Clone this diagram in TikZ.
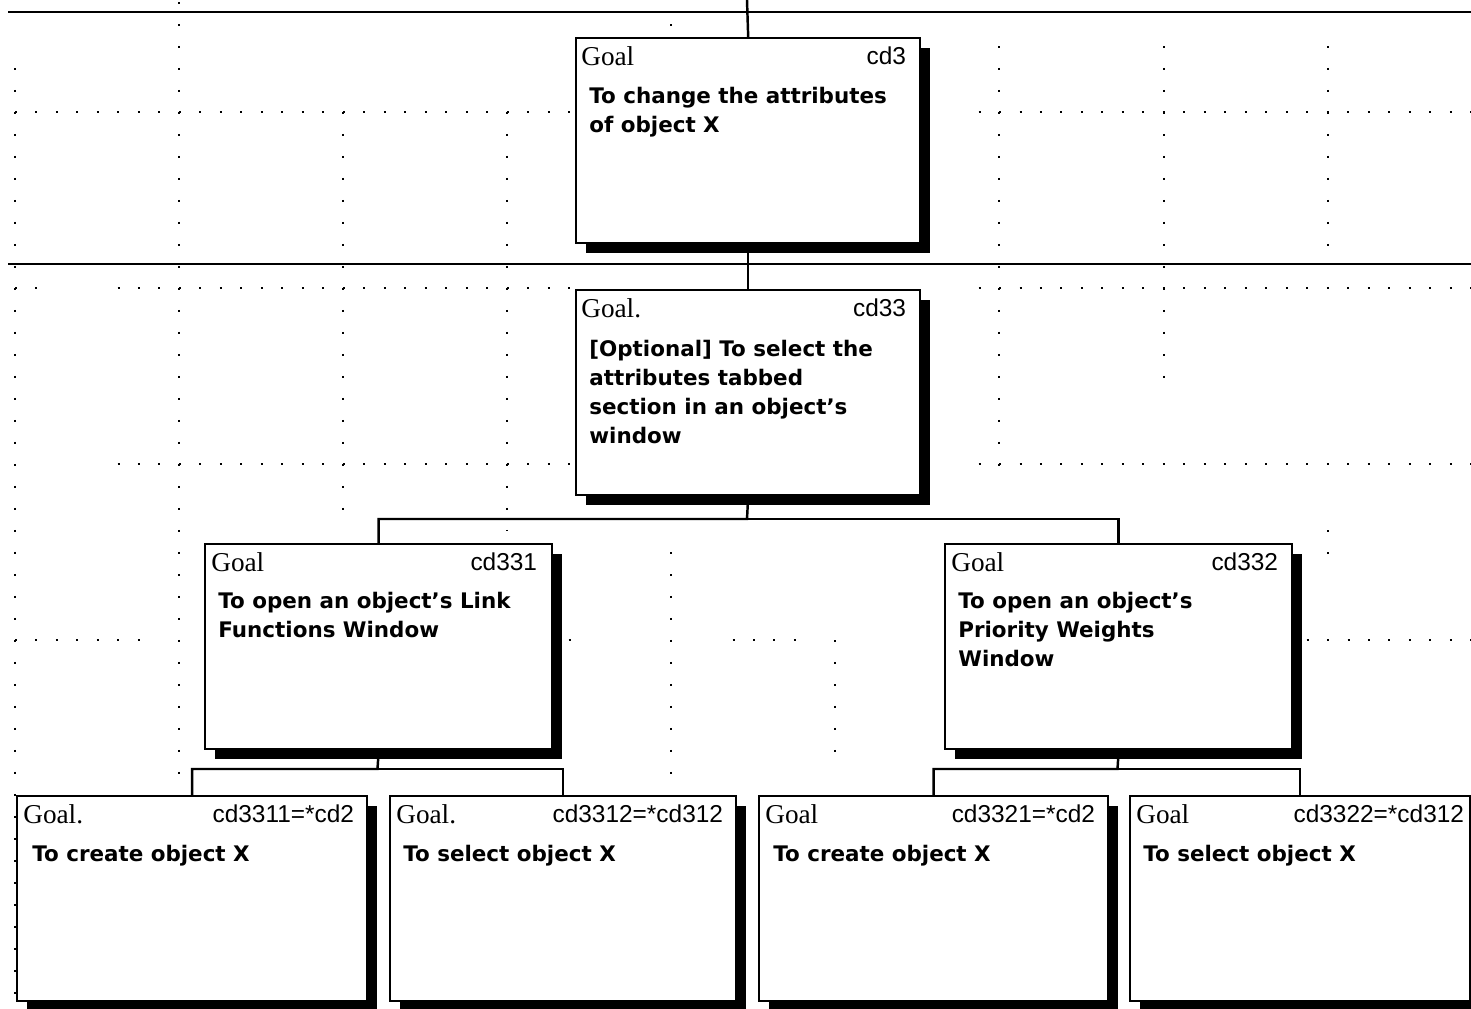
\documentclass[tikz,border=0pt]{standalone}
\usepackage{fontspec}
\setmainfont{Liberation Serif}
\newfontfamily\chifont{DejaVu Sans}
\newfontfamily\genfont{Liberation Sans}
\usepackage{tikz}
\usetikzlibrary{shadows,calc}

\begin{document}
\begin{tikzpicture}[
          x=0.02cm, y=-0.02cm,
          every node/.style={inner sep=0pt},
          goalbox/.style={draw,line width=1.4pt,fill=white,anchor=north west,
                          minimum height=4.1cm,
                          drop shadow={shadow xshift=0.2cm,shadow yshift=-0.2cm,
                                       fill=black,opacity=1}},
          goaltag/.style={anchor=base west,font=\fontsize{15.5}{18}\selectfont},
          goalref/.style={anchor=base east,font=\genfont\fontsize{13.9}{16}\selectfont},
          goaltext/.style={anchor=north west,align=left,
                           font=\chifont\bfseries\fontsize{12.2}{16.5}\selectfont},
          link/.style={line width=1.4pt},
          pagerule/.style={line width=1.6pt},
          griddotsh/.style={line width=0.04cm,dash pattern=on 0.04cm off 0.37cm},
          griddotsv/.style={line width=0.04cm,dash pattern=on 0.04cm off 0.40cm},
      ]
        \useasboundingbox (0,0) rectangle (1471,1008);
        \clip (0,0) rectangle (1471,1008);

        % background grid of the drawing sheet (only where it shows)
        \foreach \gx/\ya/\yb in {15/68/1000, 179/2/790, 343/112/520, 507/112/530,
                                 671/24/30, 671/552/780, 835/640/760,
                                 999/46/470, 1164/46/380, 1328/46/250, 1328/530/570}
          \draw[griddotsv] (\gx,\ya) -- (\gx,\yb);
        \foreach \gy/\xa/\xb in {112/15/570, 112/978.5/1471,
                                 288/15/40, 288/117.5/570, 288/978.5/1471,
                                 464/117.5/570, 464/978.5/1471,
                                 640/15/150, 640/568.5/580, 640/732.5/800, 640/1306.5/1471}
          \draw[griddotsh] (\xa,\gy) -- (\xb,\gy);

        % page rules
        \coordinate (r1w) at (8,12);   \coordinate (r1e) at (1471,12);
        \coordinate (r2w) at (8,264);  \coordinate (r2e) at (1471,264);
        \draw[pagerule] (r1w) -- (r1e);
        \draw[pagerule] (r2w) -- (r2e);

        % level 1
        \node[goalbox,minimum width=6.88cm] (b3) at (575,37) {};
        \node[goaltag] (b3g) at ([shift={(6,28)}]b3.north west) {Goal};
        \node[goalref] (b3r) at ([shift={(-15,27)}]b3.north east) {cd3};
        \node[goaltext] (b3t) at ([shift={(14,50)}]b3.north west)
          {To change the attributes\\of object X};

        % level 2
        \node[goalbox,minimum width=6.88cm] (b33) at (575,289) {};
        \node[goaltag] (b33g) at ([shift={(6,28)}]b33.north west) {Goal.};
        \node[goalref] (b33r) at ([shift={(-15,27)}]b33.north east) {cd33};
        \node[goaltext] (b33t) at ([shift={(14,51)}]b33.north west)
          {[Optional] To select the\\attributes tabbed\\section in an object’s\\window};

        % level 3
        \node[goalbox,minimum width=6.94cm] (b331) at (204,543) {};
        \node[goaltag] (b331g) at ([shift={(7,28)}]b331.north west) {Goal};
        \node[goalref] (b331r) at ([shift={(-16,27)}]b331.north east) {cd331};
        \node[goaltext] (b331t) at ([shift={(14,49)}]b331.north west)
          {To open an object’s Link\\Functions Window};

        \node[goalbox,minimum width=6.94cm] (b332) at (944,543) {};
        \node[goaltag] (b332g) at ([shift={(7,28)}]b332.north west) {Goal};
        \node[goalref] (b332r) at ([shift={(-15,27)}]b332.north east) {cd332};
        \node[goaltext] (b332t) at ([shift={(14,49)}]b332.north west)
          {To open an object’s\\Priority Weights\\Window};

        % level 4
        \node[goalbox,minimum width=7.0cm] (b3311) at (16,795) {};
        \node[goaltag] (b3311g) at ([shift={(7,28)}]b3311.north west) {Goal.};
        \node[goalref] (b3311r) at ([shift={(-14,27)}]b3311.north east) {cd3311=*cd2};
        \node[goaltext] (b3311t) at ([shift={(16,50)}]b3311.north west)
          {To create object X};

        \node[goalbox,minimum width=6.92cm] (b3312) at (389,795) {};
        \node[goaltag] (b3312g) at ([shift={(7,28)}]b3312.north west) {Goal.};
        \node[goalref] (b3312r) at ([shift={(-14,27)}]b3312.north east) {cd3312=*cd312};
        \node[goaltext] (b3312t) at ([shift={(14,50)}]b3312.north west)
          {To select object X};

        \node[goalbox,minimum width=6.98cm] (b3321) at (758,795) {};
        \node[goaltag] (b3321g) at ([shift={(7,28)}]b3321.north west) {Goal};
        \node[goalref] (b3321r) at ([shift={(-14,27)}]b3321.north east) {cd3321=*cd2};
        \node[goaltext] (b3321t) at ([shift={(15,50)}]b3321.north west)
          {To create object X};

        \node[goalbox,minimum width=6.8cm] (b3322) at (1129,795) {};
        \node[goaltag] (b3322g) at ([shift={(7,28)}]b3322.north west) {Goal};
        \node[goalref] (b3322r) at ([shift={(-7,27)}]b3322.north east) {cd3322=*cd312};
        \node[goaltext] (b3322t) at ([shift={(14,50)}]b3322.north west)
          {To select object X};

        % tree links
        \coordinate (top) at (747,0);
        \coordinate (j33) at (747,519);
        \coordinate (j331) at (377.5,769);
        \coordinate (j332) at (1117.5,769);
        \draw[link] (top) -- (b3.north);
        \draw[link] (b3.south) -- (b33.north);
        \draw[link] (b33.south) -- (j33) -| (b331.north);
        \draw[link] (j33) -| (b332.north);
        \draw[link] (b331.south) -- (j331) -| (b3311.north);
        \draw[link] (j331) -| (b3312.north);
        \draw[link] (b332.south) -- (j332) -| (b3321.north);
        \draw[link] (j332) -| (b3322.north);
      \end{tikzpicture}
\end{document}
